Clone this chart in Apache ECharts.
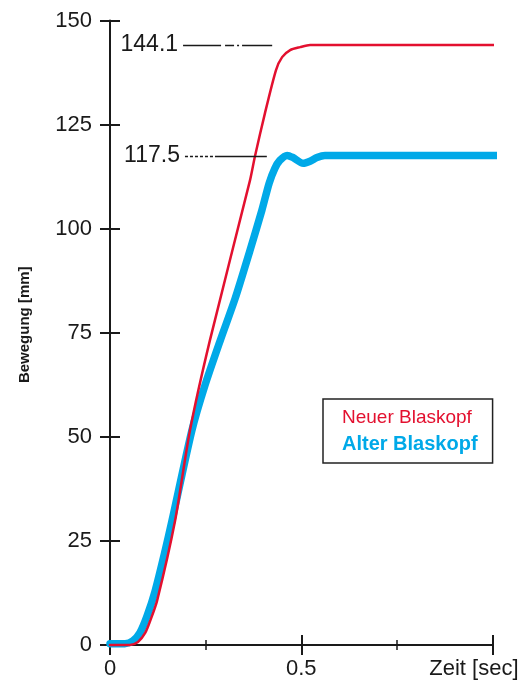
<!DOCTYPE html>
<html>
<head>
<meta charset="utf-8">
<script src="https://cdn.jsdelivr.net/npm/echarts@6/dist/echarts.min.js"></script>
<style>
html,body{margin:0;padding:0;background:#fff;}
#c{width:529px;height:681px;}
</style>
</head>
<body>
<div id="c"></div>
<script>
// Data
var neuerName = 'Neuer Blaskopf';
var alterName = 'Alter Blaskopf';
var neuerX = [0, 0.052, 0.073, 0.092, 0.105, 0.123, 0.170, 0.209, 0.261, 0.366, 0.379, 0.405, 0.434, 0.450, 0.471, 0.497, 0.523, 1.020];
var neuerY = [0, 0, 0.7, 2.9, 5.8, 10.6, 29.8, 51.5, 73.1, 111.6, 117.4, 127.7, 138.1, 141.2, 142.9, 143.6, 144.1, 144.1];
var alterX = [0, 0.039, 0.060, 0.078, 0.097, 0.118, 0.144, 0.162, 0.214, 0.248, 0.288, 0.327, 0.366, 0.397, 0.416, 0.431, 0.444, 0.463, 0.478, 0.505, 0.523, 0.541, 0.562, 1.020];
var alterY = [0.3, 0.3, 1, 2.9, 7, 13, 22.6, 29.8, 51.5, 62.3, 73.1, 83.2, 94.8, 104.4, 110.9, 114.5, 116.4, 117.6, 117.1, 115.7, 116.2, 117.1, 117.6, 117.6];
var annotValues = [144.1, 117.5];
var annotStartX = [0.191, 0.196];
var annotEndX = [0.424, 0.410];
var xTickLabels = {0: '0', 0.5: '0.5', 1: ''};
var xName = 'Zeit [sec]';
var yName = 'Bewegung [mm]';

var RED = '#e3102f';
var BLUE = '#00a9e8';
var INK = '#1a1a1a';
var FONT = 'Liberation Sans, Arial, sans-serif';

function pairs(xs, ys){ return xs.map(function(x,i){ return [x, ys[i]]; }); }

var chart = echarts.init(document.getElementById('c'));
var option = {
  animation: false,
  backgroundColor: '#fff',
  grid: {left: 110, right: 36.5, top: 20.5, bottom: 36},
  legend: {
    orient: 'vertical',
    left: 323, top: 399,
    padding: [9, 15, 9, 14],
    itemGap: 7,
    itemWidth: 0, itemHeight: 0,
    borderColor: '#222', borderWidth: 1.5,
    selectedMode: false,
    textStyle: {fontFamily: FONT, fontSize: 19},
    data: [
      {name: neuerName, icon: 'none', textStyle: {color: RED, fontSize: 19}},
      {name: alterName, icon: 'none', textStyle: {color: BLUE, fontWeight: 'bold', fontSize: 20}}
    ]
  },
  xAxis: [{
    type: 'value', min: 0, max: 1, interval: 0.5, position: 'bottom',
    axisLine: {show: true, onZero: false, lineStyle: {color: INK, width: 2}},
    axisTick: {show: true, inside: false, length: 10, lineStyle: {color: INK, width: 2}},
    minorTick: {show: true, splitNumber: 2, length: 5, lineStyle: {color: INK, width: 1.5}},
    splitLine: {show: false},
    axisLabel: {margin: 13, color: INK, fontFamily: FONT, fontSize: 22,
      formatter: function(v){ return xTickLabels[v] !== undefined ? xTickLabels[v] : ''; }},
    name: xName, nameLocation: 'end', nameGap: 26,
    nameTextStyle: {color: INK, fontFamily: FONT, fontSize: 22, align: 'right', verticalAlign: 'top', padding: [13, 0, 0, 0]}
  }, {
    type: 'value', min: 0, max: 1, interval: 0.5, position: 'bottom',
    axisLine: {show: false, onZero: false},
    axisTick: {show: true, inside: true, length: 10, lineStyle: {color: INK, width: 2}},
    minorTick: {show: true, splitNumber: 2, length: 5, lineStyle: {color: INK, width: 1.5}},
    splitLine: {show: false},
    axisLabel: {show: false}
  }],
  yAxis: [{
    type: 'value', min: 0, max: 150, interval: 25, position: 'left',
    axisLine: {show: true, onZero: false, lineStyle: {color: INK, width: 2}},
    axisTick: {show: true, inside: false, length: 10, lineStyle: {color: INK, width: 2}},
    splitLine: {show: false},
    axisLabel: {margin: 18, color: INK, fontFamily: FONT, fontSize: 22},
    name: yName, nameLocation: 'middle', nameGap: 78, nameRotate: 90,
    nameTextStyle: {color: INK, fontFamily: FONT, fontSize: 15, fontWeight: 'bold', padding: [0, 0, 0, 16]}
  }, {
    type: 'value', min: 0, max: 150, interval: 25, position: 'left',
    axisLine: {show: false, onZero: false},
    axisTick: {show: true, inside: true, length: 10, lineStyle: {color: INK, width: 2}},
    splitLine: {show: false},
    axisLabel: {show: false}
  }],
  series: [{
    name: alterName, type: 'line', xAxisIndex: 0, yAxisIndex: 0,
    data: pairs(alterX, alterY),
    showSymbol: false, symbol: 'none', clip: false,
    smooth: 0.25,
    lineStyle: {color: BLUE, width: 7.5, cap: 'round', join: 'round'},
    itemStyle: {color: BLUE},
    z: 2
  }, {
    name: neuerName, type: 'line', xAxisIndex: 0, yAxisIndex: 0,
    data: pairs(neuerX, neuerY),
    showSymbol: false, symbol: 'none', clip: false,
    smooth: 0.25,
    lineStyle: {color: RED, width: 2.5, cap: 'round', join: 'round'},
    itemStyle: {color: RED},
    z: 3,
    markLine: {
      silent: true, symbol: 'none', animation: false,
      label: {show: true, position: 'start', distance: 5, color: INK, fontFamily: FONT, fontSize: 23,
        formatter: function(p){ return String(p.value); }},
      data: [
        [{coord: [annotStartX[0], annotValues[0]], value: annotValues[0].toFixed(1),
          lineStyle: {color: INK, width: 1.3, type: [38, 4, 9, 3, 2, 3, 40, 12]}},
         {coord: [annotEndX[0], annotValues[0]]}],
        [{coord: [annotStartX[1], annotValues[1]], value: annotValues[1].toFixed(1),
          lineStyle: {color: INK, width: 1.3, type: [3, 2, 3, 2, 3, 2, 3, 2, 3, 2, 3, 2, 60, 10]}},
         {coord: [annotEndX[1], annotValues[1]]}]
      ]
    }
  }]
};
chart.setOption(option);
</script>
</body>
</html>
